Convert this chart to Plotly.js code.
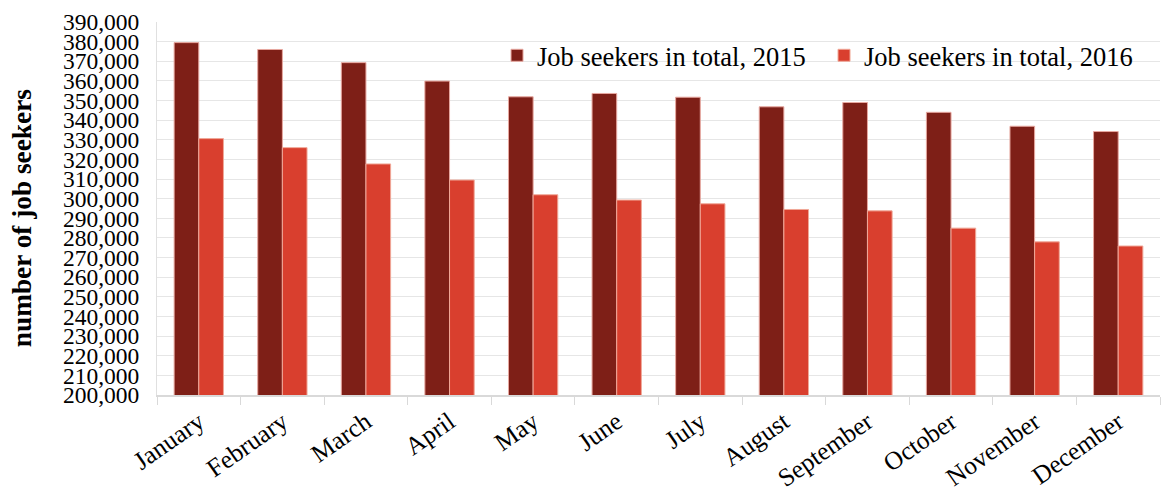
<!DOCTYPE html>
<html>
<head>
<meta charset="utf-8">
<script src="https://cdn.plot.ly/plotly-3.0.1.min.js"></script>
<style>html,body{margin:0;padding:0;background:#fff;}#chart{width:1164px;height:492px;}</style>
</head>
<body>
<div id="chart"></div>
<script>
const months = ["January","February","March","April","May","June","July","August","September","October","November","December"];
const seekers2015 = [379500, 376000, 369300, 359900, 351900, 353600, 351700, 346800, 349000, 344000, 336900, 334200];
const seekers2016 = [330600, 326000, 317700, 309500, 302000, 299300, 297400, 294500, 293800, 285000, 278000, 275900];
const seriesNames = ["Job seekers in total, 2015", "Job seekers in total, 2016"];
const yTitle = "number of job seekers";
const yTicks = [];
for (let v = 200000; v <= 390000; v += 10000) yTicks.push(v);

const font = {family: "Liberation Serif, Times New Roman, serif", color: "#000"};
const traces = [
  {type: "bar", x: months, y: seekers2015, name: seriesNames[0],
   marker: {color: "#7E1F17", line: {color: "#E8A8A0", width: 1}}},
  {type: "bar", x: months, y: seekers2016, name: seriesNames[1],
   marker: {color: "#D93F2E", line: {color: "#F0A898", width: 1}}}
];
const layout = {
  width: 1164, height: 492,
  margin: {l: 157, r: 4, t: 22, b: 97},
  paper_bgcolor: "#fff", plot_bgcolor: "#fff",
  barmode: "group", bargap: 0.41, bargroupgap: 0,
  font: Object.assign({size: 23}, font),
  showlegend: true,
  legend: {orientation: "h", x: 0.339, xanchor: "left", y: 0.91, yanchor: "middle",
           font: Object.assign({size: 26.5}, font), bgcolor: "rgba(0,0,0,0)",
           itemwidth: 30, tracegroupgap: 0, entrywidth: 282, entrywidthmode: "pixels"},
  xaxis: {type: "category", tickangle: -35, tickfont: Object.assign({size: 25.5}, font),
          showgrid: false, showline: true, linecolor: "#d9d9d9", linewidth: 2,
          ticks: "outside", tickson: "boundaries", ticklen: 8, tickcolor: "#d9d9d9", tickwidth: 1},
  yaxis: {range: [200000, 390000], tickvals: yTicks, tickformat: ",d",
          tickfont: Object.assign({size: 23.5}, font), ticklabelstandoff: 12,
          showgrid: true, gridcolor: "#e6e6e6", gridwidth: 1,
          showline: true, linecolor: "#e0e0e0", linewidth: 1, zeroline: false},
  annotations: [{text: "<b>" + yTitle + "</b>", xref: "paper", yref: "paper",
                 x: -0.135, xanchor: "center", y: 0.473, yanchor: "middle",
                 textangle: -90, showarrow: false, font: Object.assign({size: 27.3}, font)}]
};
Plotly.newPlot("chart", traces, layout, {displayModeBar: false, staticPlot: true});
</script>
</body>
</html>
